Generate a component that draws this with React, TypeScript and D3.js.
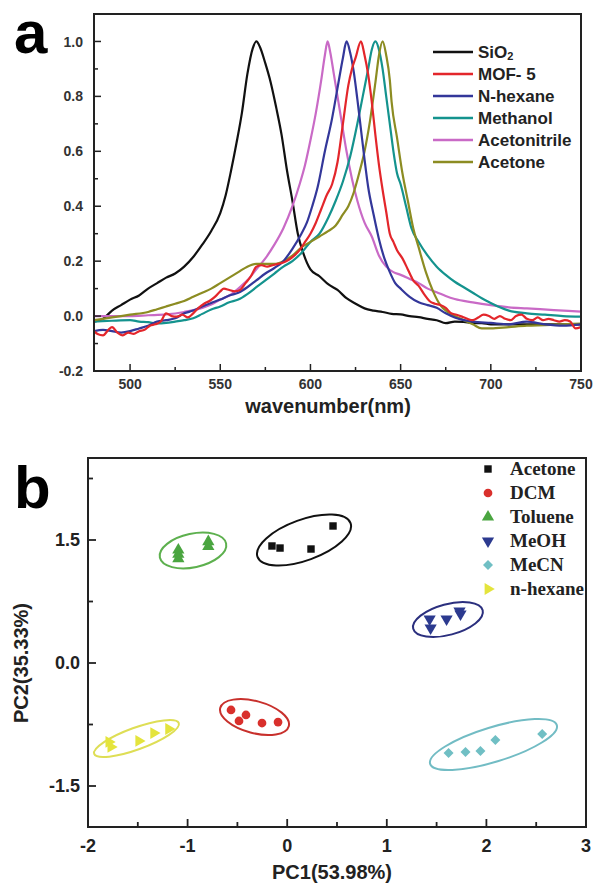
import React from "react";
import * as d3 from "d3";

// ---- panel a: normalised spectra ----
const seriesNames = ["SiO2", "MOF- 5", "N-hexane", "Methanol", "Acetonitrile", "Acetone"];
const seriesColors = ["#111111", "#e3262b", "#33379a", "#14938e", "#c96ac6", "#8c8c22"];

const sio2 = [
  [480, -0.02], [485, -0.01], [490, 0.02], [495, 0.04], [500, 0.06], [505, 0.075], [510, 0.1],
  [515, 0.12], [520, 0.14], [525, 0.155], [530, 0.18], [535, 0.215], [540, 0.26], [545, 0.31],
  [550, 0.375], [553, 0.44], [556, 0.53], [559, 0.63], [562, 0.74], [565, 0.88], [568, 0.975],
  [570, 1.0], [572, 0.98], [575, 0.92], [578, 0.85], [581, 0.76], [584, 0.66], [587, 0.53],
  [590, 0.42], [593, 0.3], [596, 0.23], [600, 0.17], [605, 0.145], [610, 0.115], [615, 0.095],
  [620, 0.065], [625, 0.045], [630, 0.028], [635, 0.02], [640, 0.015], [645, 0.008], [650, 0.006],
  [655, 0.0], [660, -0.004], [665, -0.01], [670, -0.015], [675, -0.026], [680, -0.02],
  [685, -0.021], [690, -0.026], [695, -0.026], [700, -0.03], [720, -0.03], [750, -0.03],
];

const mof5 = [
  [480, -0.055], [482, -0.065], [485, -0.07], [488, -0.05], [490, -0.04], [493, -0.06], [496, -0.07],
  [499, -0.06], [502, -0.065], [505, -0.055], [508, -0.05], [511, -0.035], [514, -0.03], [517, -0.02],
  [520, 0.01], [523, 0.0], [526, -0.002], [529, 0.005], [532, -0.005], [535, 0.01], [538, 0.03],
  [541, 0.045], [544, 0.055], [547, 0.07], [550, 0.09], [552, 0.1], [555, 0.095], [558, 0.09],
  [561, 0.095], [564, 0.12], [567, 0.145], [570, 0.18], [573, 0.185], [576, 0.18], [579, 0.185],
  [582, 0.19], [585, 0.195], [588, 0.205], [591, 0.22], [594, 0.24], [597, 0.27], [600, 0.3],
  [603, 0.34], [606, 0.39], [609, 0.44], [612, 0.48], [615, 0.56], [618, 0.7], [621, 0.84],
  [623, 0.9], [625, 0.94], [628, 1.0], [630, 0.95], [632, 0.88], [634, 0.78], [636, 0.66],
  [638, 0.55], [640, 0.46], [642, 0.38], [644, 0.3], [646, 0.27], [648, 0.24], [651, 0.21],
  [654, 0.17], [657, 0.13], [660, 0.11], [663, 0.08], [666, 0.055], [669, 0.045], [672, 0.04],
  [675, 0.03], [678, 0.01], [681, 0.005], [684, -0.002], [687, -0.01], [690, -0.015], [693, -0.005],
  [696, 0.005], [699, 0.0], [702, -0.01], [705, 0.0], [708, -0.01], [711, -0.015], [714, 0.0],
  [717, 0.005], [720, -0.01], [723, -0.015], [726, -0.005], [729, -0.015], [732, -0.01],
  [735, -0.015], [738, -0.02], [741, -0.015], [744, -0.02], [747, -0.045], [750, -0.04],
];

const nHexane = [
  [480, -0.055], [485, -0.05], [490, -0.055], [495, -0.06], [500, -0.055], [505, -0.045],
  [510, -0.035], [515, -0.02], [520, -0.015], [525, -0.008], [530, 0.01], [535, 0.02], [540, 0.035],
  [545, 0.048], [550, 0.06], [555, 0.075], [560, 0.085], [565, 0.105], [570, 0.13], [575, 0.155],
  [580, 0.175], [585, 0.2], [590, 0.245], [595, 0.3], [598, 0.34], [601, 0.4], [604, 0.47],
  [608, 0.6], [612, 0.72], [615, 0.83], [618, 0.94], [620, 1.0], [622, 0.96], [624, 0.89],
  [626, 0.79], [628, 0.68], [630, 0.57], [632, 0.47], [635, 0.37], [638, 0.28], [641, 0.21],
  [644, 0.16], [647, 0.12], [650, 0.1], [655, 0.07], [660, 0.05], [665, 0.04], [670, 0.03],
  [675, 0.01], [680, -0.005], [685, -0.015], [690, -0.02], [700, -0.025], [710, -0.03],
  [720, -0.02], [730, -0.03], [740, -0.035], [750, -0.03],
];

const methanol = [
  [480, -0.02], [490, -0.017], [500, -0.015], [505, -0.02], [510, -0.022], [515, -0.027],
  [520, -0.025], [525, -0.02], [530, -0.015], [535, -0.008], [540, 0.008], [545, 0.024],
  [550, 0.035], [555, 0.05], [560, 0.06], [565, 0.08], [570, 0.105], [575, 0.13], [580, 0.155],
  [585, 0.18], [590, 0.2], [595, 0.23], [600, 0.27], [605, 0.3], [610, 0.36], [614, 0.42],
  [618, 0.49], [622, 0.58], [626, 0.7], [629, 0.8], [632, 0.9], [634, 0.97], [636, 1.0],
  [638, 0.97], [640, 0.9], [642, 0.8], [644, 0.7], [646, 0.6], [648, 0.52], [650, 0.48],
  [653, 0.4], [656, 0.32], [660, 0.27], [665, 0.22], [670, 0.18], [675, 0.15], [680, 0.125],
  [685, 0.105], [690, 0.085], [695, 0.065], [700, 0.048], [705, 0.032], [710, 0.02], [720, 0.01],
  [730, 0.005], [740, 0.0], [750, -0.002],
];

const acetonitrile = [
  [480, 0.0], [490, 0.0], [500, 0.0], [510, 0.003], [520, 0.006], [530, 0.015], [540, 0.03],
  [545, 0.042], [550, 0.06], [555, 0.075], [560, 0.1], [565, 0.13], [570, 0.17], [575, 0.21],
  [580, 0.26], [585, 0.32], [590, 0.4], [594, 0.48], [597, 0.55], [600, 0.64], [603, 0.74],
  [606, 0.86], [608, 0.95], [609.5, 1.0], [611, 0.96], [613, 0.88], [615, 0.8], [617, 0.72],
  [620, 0.6], [623, 0.5], [626, 0.42], [630, 0.34], [634, 0.29], [638, 0.22], [642, 0.18],
  [646, 0.16], [650, 0.15], [655, 0.135], [660, 0.12], [665, 0.1], [670, 0.087], [675, 0.073],
  [680, 0.062], [690, 0.05], [700, 0.04], [710, 0.032], [720, 0.028], [735, 0.022], [750, 0.016],
];

const acetone = [
  [480, -0.015], [490, -0.005], [500, 0.005], [510, 0.015], [515, 0.025], [520, 0.035],
  [525, 0.045], [530, 0.055], [535, 0.07], [540, 0.085], [545, 0.1], [550, 0.12], [555, 0.14],
  [560, 0.16], [565, 0.18], [570, 0.19], [575, 0.19], [580, 0.19], [585, 0.2], [590, 0.22],
  [595, 0.25], [600, 0.27], [605, 0.29], [610, 0.31], [614, 0.33], [618, 0.37], [621, 0.4],
  [624, 0.45], [627, 0.52], [630, 0.6], [633, 0.71], [636, 0.85], [638, 0.95], [640, 1.0],
  [642, 0.95], [644, 0.86], [645, 0.78], [648, 0.65], [651, 0.52], [654, 0.42], [657, 0.32],
  [660, 0.25], [664, 0.16], [668, 0.09], [672, 0.04], [676, 0.015], [680, 0.0], [685, -0.015],
  [690, -0.03], [695, -0.045], [700, -0.045], [710, -0.04], [720, -0.035], [730, -0.033],
  [740, -0.03], [750, -0.027],
];

const spectra = [sio2, mof5, nHexane, methanol, acetonitrile, acetone];
// drawing order (back to front)
const drawOrder = [0, 4, 3, 5, 2, 1];

const xTicksA = [500, 550, 600, 650, 700, 750];
const yTicksA = [-0.2, 0.0, 0.2, 0.4, 0.6, 0.8, 1.0];

// ---- panel b: PCA scores ----
const groupNames = ["Acetone", "DCM", "Toluene", "MeOH", "MeCN", "n-hexane"];
const groupColors = ["#111111", "#d9302c", "#4aa540", "#2c3a8f", "#70bfc4", "#e4e43c"];
const ellipseColors = ["#111111", "#c8302c", "#5db04e", "#2b2f7e", "#72bcc4", "#dede55"];
const pc1 = [
  [-0.153, -0.072, 0.239, 0.46],
  [-0.564, -0.484, -0.414, -0.253, -0.092],
  [-1.093, -1.093, -1.093, -0.792, -0.792],
  [1.43, 1.44, 1.6, 1.73, 1.74],
  [1.62, 1.79, 1.94, 2.09, 2.56],
  [-1.79, -1.77, -1.49, -1.34, -1.19],
];
const pc2 = [
  [1.427, 1.402, 1.39, 1.671],
  [-0.573, -0.707, -0.634, -0.732, -0.72],
  [1.378, 1.326, 1.272, 1.48, 1.42],
  [0.537, 0.427, 0.537, 0.634, 0.598],
  [-1.098, -1.085, -1.073, -0.939, -0.866],
  [-0.963, -1.024, -0.951, -0.854, -0.805],
];
const ellipseCenterPC1 = [0.169, -0.328, -0.946, 1.614, 2.071, -1.513];
const ellipseCenterPC2 = [1.5, -0.659, 1.372, 0.53, -0.994, -0.921];
const ellipseHalfPC1 = [0.497, 0.356, 0.34, 0.361, 0.665, 0.452];
const ellipseHalfPC2 = [0.248, 0.195, 0.205, 0.187, 0.211, 0.133];
const ellipseTilt = [-20, 15, -12, -15, -17, -20];

const xTicksB = [-2, -1, 0, 1, 2, 3];
const yTicksB = [-1.5, 0.0, 1.5];

const SANS = "'Liberation Sans', Arial, sans-serif";
const SERIF = "'Liberation Serif', 'Times New Roman', serif";

function PanelA() {
  const L = 94, R = 581, T = 14, B = 371;
  const x = d3.scaleLinear().domain([480, 750]).range([L, R]);
  const y = d3.scaleLinear().domain([-0.2, 1.1]).range([B, T]);
  const line = d3.line<number[]>().x((d) => x(d[0])).y((d) => y(d[1])).curve(d3.curveMonotoneX);
  const minorX = d3.range(525, 750, 50);
  const minorY = d3.range(-0.1, 1.0, 0.2);
  return (
    <g>
      <text x={14} y={53} fontFamily={SANS} fontWeight="bold" fontSize={60}>a</text>
      <defs>
        <clipPath id="clipA"><rect x={L} y={T} width={R - L} height={B - T} /></clipPath>
      </defs>
      <g clipPath="url(#clipA)">
        {drawOrder.map((i) => (
          <path key={i} d={line(spectra[i]) || ""} fill="none" stroke={seriesColors[i]}
            strokeWidth={2.2} strokeLinejoin="round" />
        ))}
      </g>
      <rect x={L} y={T} width={R - L} height={B - T} fill="none" stroke="#222" strokeWidth={2} />
      {xTicksA.map((t) => (
        <g key={t}>
          <line x1={x(t)} x2={x(t)} y1={B} y2={B - 7} stroke="#222" strokeWidth={1.5} />
          <text x={x(t)} y={389} textAnchor="middle" fontFamily={SANS} fontWeight="bold" fontSize={14} fill="#333">{t}</text>
        </g>
      ))}
      {minorX.map((t) => (
        <line key={t} x1={x(t)} x2={x(t)} y1={B} y2={B - 4} stroke="#222" strokeWidth={1.5} />
      ))}
      {yTicksA.map((t) => (
        <g key={t}>
          <line x1={L} x2={L + 7} y1={y(t)} y2={y(t)} stroke="#222" strokeWidth={1.5} />
          <text x={83} y={y(t)} dy="0.36em" textAnchor="end" fontFamily={SANS} fontWeight="bold" fontSize={14} fill="#333">{t.toFixed(1)}</text>
        </g>
      ))}
      {minorY.map((t) => (
        <line key={t} x1={L} x2={L + 4} y1={y(t)} y2={y(t)} stroke="#222" strokeWidth={1.5} />
      ))}
      <text x={328} y={413} textAnchor="middle" fontFamily={SANS} fontWeight="bold" fontSize={20} fill="#222">wavenumber(nm)</text>
      {seriesNames.map((name, i) => {
        const ly = 52 + i * 22;
        return (
          <g key={name}>
            <line x1={433} x2={473} y1={ly} y2={ly} stroke={seriesColors[i]} strokeWidth={2.5} />
            <text x={478} y={ly} dy="0.36em" fontFamily={SANS} fontWeight="bold" fontSize={17} fill="#222">
              {name === "SiO2" ? (<>SiO<tspan fontSize={11} dy="0.15em">2</tspan></>) : name}
            </text>
          </g>
        );
      })}
    </g>
  );
}

const symbolTypes = [d3.symbolSquare, d3.symbolCircle, d3.symbolTriangle, d3.symbolTriangle, d3.symbolSquare, d3.symbolTriangle];
const symbolRotate = [0, 0, 0, 180, 45, 90];
const symbolSizes = [55, 60, 65, 65, 50, 60];

function PanelB() {
  const L = 88, R = 586, T = 458, B = 827;
  const x = d3.scaleLinear().domain([-2, 3]).range([L, R]);
  const y = d3.scaleLinear().domain([-2, 2.5]).range([B, T]);
  const ux = x(1) - x(0);
  const uy = y(0) - y(1);
  const minorX = d3.range(-1.5, 3, 1);
  const minorY = [-0.75, 0.75, 2.25];
  return (
    <g>
      <text x={14} y={508} fontFamily={SANS} fontWeight="bold" fontSize={60}>b</text>
      {groupNames.map((g, i) => (
        <ellipse key={"e" + g} cx={0} cy={0} rx={ellipseHalfPC1[i] * ux} ry={ellipseHalfPC2[i] * uy}
          transform={`translate(${x(ellipseCenterPC1[i])},${y(ellipseCenterPC2[i])}) rotate(${ellipseTilt[i]})`}
          fill="none" stroke={ellipseColors[i]} strokeWidth={2} />
      ))}
      {groupNames.map((g, i) => {
        const path = d3.symbol().type(symbolTypes[i]).size(symbolSizes[i])() || "";
        return pc1[i].map((v, j) => (
          <path key={g + j} d={path} fill={groupColors[i]}
            transform={`translate(${x(v)},${y(pc2[i][j])}) rotate(${symbolRotate[i]})`} />
        ));
      })}
      <rect x={L} y={T} width={R - L} height={B - T} fill="none" stroke="#222" strokeWidth={2} />
      {xTicksB.map((t) => (
        <g key={t}>
          <line x1={x(t)} x2={x(t)} y1={B} y2={B - 8} stroke="#222" strokeWidth={1.8} />
          <text x={x(t)} y={852} textAnchor="middle" fontFamily={SANS} fontWeight="bold" fontSize={18} fill="#222">{t}</text>
        </g>
      ))}
      {minorX.map((t) => (
        <line key={t} x1={x(t)} x2={x(t)} y1={B} y2={B - 5} stroke="#222" strokeWidth={1.8} />
      ))}
      {yTicksB.map((t) => (
        <g key={t}>
          <line x1={L} x2={L + 8} y1={y(t)} y2={y(t)} stroke="#222" strokeWidth={1.8} />
          <text x={80} y={y(t)} dy="0.36em" textAnchor="end" fontFamily={SANS} fontWeight="bold" fontSize={18} fill="#222">{t.toFixed(1)}</text>
        </g>
      ))}
      {minorY.map((t) => (
        <line key={t} x1={L} x2={L + 5} y1={y(t)} y2={y(t)} stroke="#222" strokeWidth={1.8} />
      ))}
      <text x={332} y={879} textAnchor="middle" fontFamily={SANS} fontWeight="bold" fontSize={20} fill="#222">PC1(53.98%)</text>
      <text transform={`translate(28,663) rotate(-90)`} textAnchor="middle" fontFamily={SANS} fontWeight="bold" fontSize={20} fill="#222">PC2(35.33%)</text>
      {groupNames.map((g, i) => {
        const ly = 469 + i * 24;
        const path = d3.symbol().type(symbolTypes[i]).size(symbolSizes[i])() || "";
        return (
          <g key={"l" + g}>
            <path d={path} fill={groupColors[i]} transform={`translate(488,${ly}) rotate(${symbolRotate[i]})`} />
            <text x={510} y={ly} dy="0.33em" fontFamily={SERIF} fontWeight="bold" fontSize={19} fill="#222">{g}</text>
          </g>
        );
      })}
    </g>
  );
}

export default function App() {
  return (
    <svg width={595} height={883} style={{ position: "absolute", left: 0, top: 0, background: "#fff" }}>
      <rect width={595} height={883} fill="#fff" />
      <PanelA />
      <PanelB />
    </svg>
  );
}
